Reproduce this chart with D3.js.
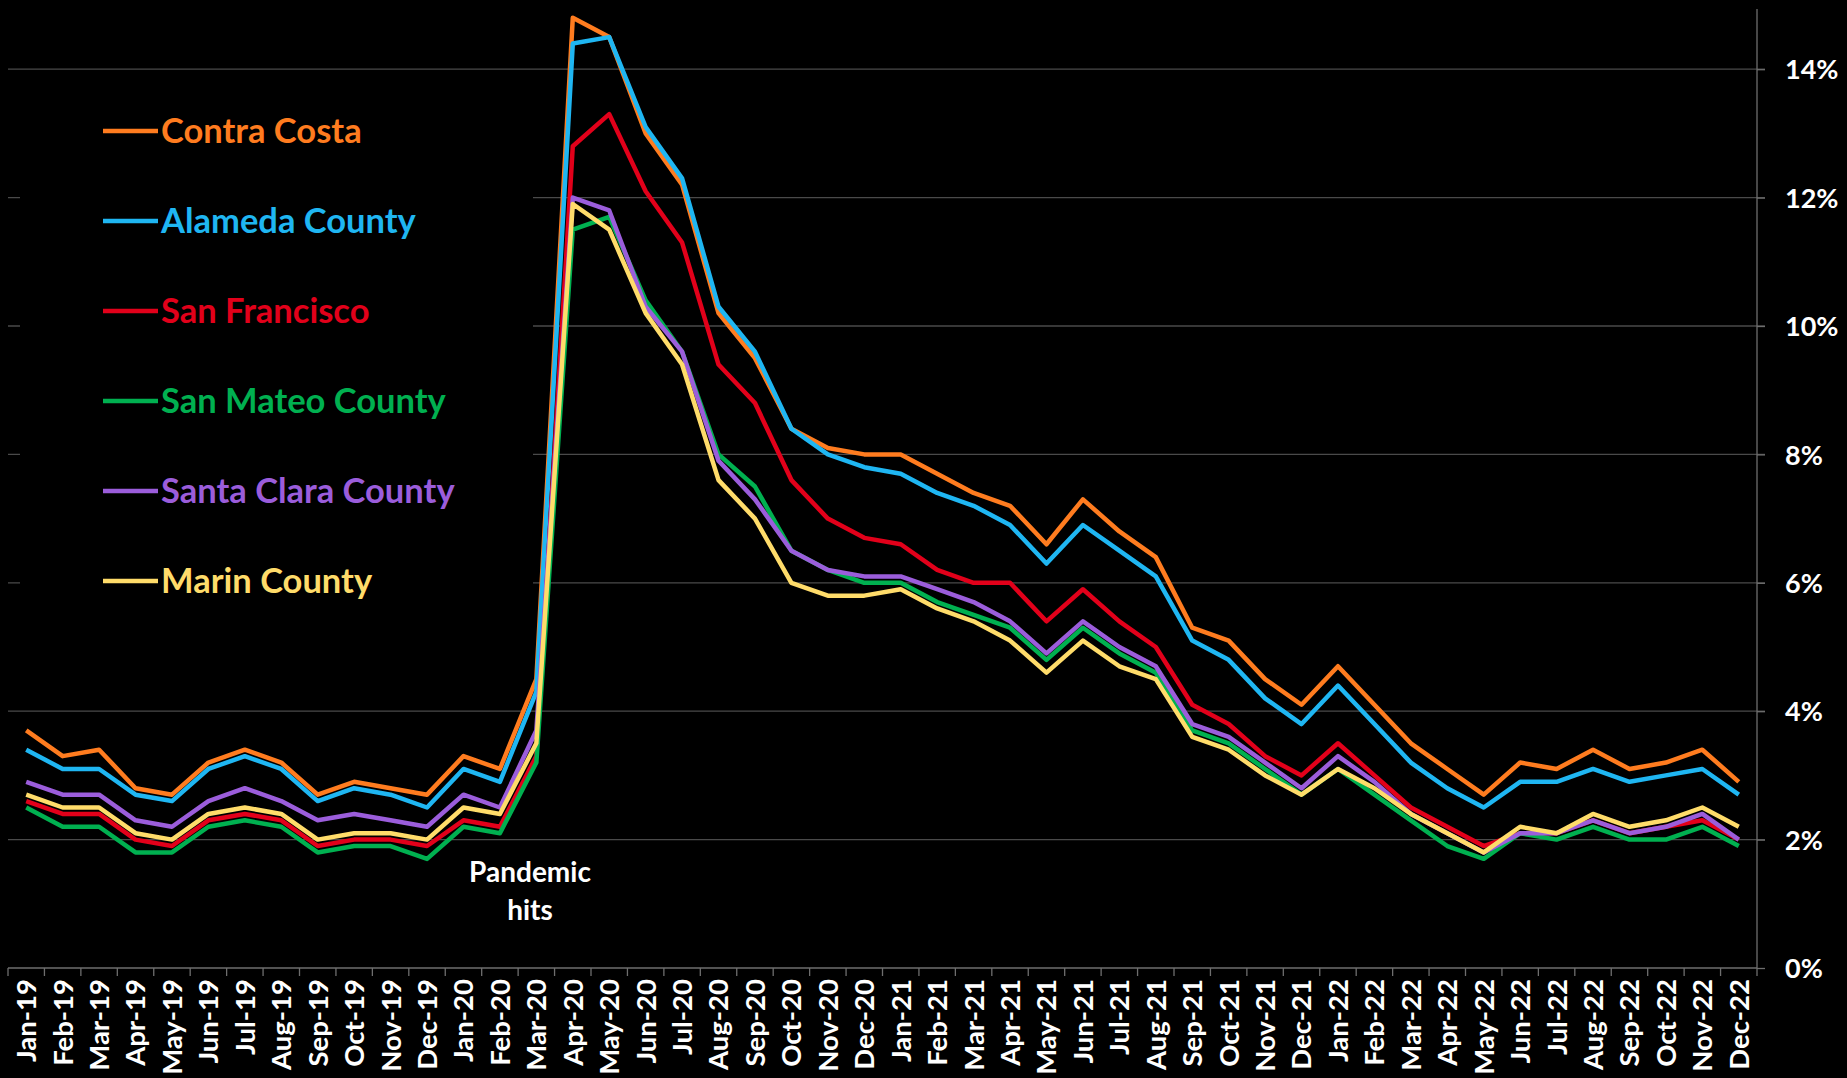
<!DOCTYPE html>
<html>
<head>
<meta charset="utf-8">
<script src="https://cdn.jsdelivr.net/npm/d3@7"></script>
<style>
  body { margin: 0; background: #000; }
  #my_dataviz { width: 1847px; height: 1078px; }
</style>
</head>
<body>
<div id="my_dataviz"></div>
<script>
// months on the x axis
var months = [
  "Jan-19","Feb-19","Mar-19","Apr-19","May-19","Jun-19","Jul-19","Aug-19","Sep-19","Oct-19","Nov-19","Dec-19",
  "Jan-20","Feb-20","Mar-20","Apr-20","May-20","Jun-20","Jul-20","Aug-20","Sep-20","Oct-20","Nov-20","Dec-20",
  "Jan-21","Feb-21","Mar-21","Apr-21","May-21","Jun-21","Jul-21","Aug-21","Sep-21","Oct-21","Nov-21","Dec-21",
  "Jan-22","Feb-22","Mar-22","Apr-22","May-22","Jun-22","Jul-22","Aug-22","Sep-22","Oct-22","Nov-22","Dec-22"
];

// unemployment rate, percent
var contraCosta = [
  3.7, 3.3, 3.4, 2.8, 2.7, 3.2, 3.4, 3.2, 2.7, 2.9, 2.8, 2.7,
  3.3, 3.1, 4.5, 14.8, 14.5, 13.0, 12.2, 10.2, 9.5, 8.4, 8.1, 8.0,
  8.0, 7.7, 7.4, 7.2, 6.6, 7.3, 6.8, 6.4, 5.3, 5.1, 4.5, 4.1,
  4.7, 4.1, 3.5, 3.1, 2.7, 3.2, 3.1, 3.4, 3.1, 3.2, 3.4, 2.9
];
var alameda = [
  3.4, 3.1, 3.1, 2.7, 2.6, 3.1, 3.3, 3.1, 2.6, 2.8, 2.7, 2.5,
  3.1, 2.9, 4.3, 14.4, 14.5, 13.1, 12.3, 10.3, 9.6, 8.4, 8.0, 7.8,
  7.7, 7.4, 7.2, 6.9, 6.3, 6.9, 6.5, 6.1, 5.1, 4.8, 4.2, 3.8,
  4.4, 3.8, 3.2, 2.8, 2.5, 2.9, 2.9, 3.1, 2.9, 3.0, 3.1, 2.7
];
var sanFrancisco = [
  2.6, 2.4, 2.4, 2.0, 1.9, 2.3, 2.4, 2.3, 1.9, 2.0, 2.0, 1.9,
  2.3, 2.2, 3.3, 12.8, 13.3, 12.1, 11.3, 9.4, 8.8, 7.6, 7.0, 6.7,
  6.6, 6.2, 6.0, 6.0, 5.4, 5.9, 5.4, 5.0, 4.1, 3.8, 3.3, 3.0,
  3.5, 3.0, 2.5, 2.2, 1.9, 2.1, 2.1, 2.3, 2.1, 2.2, 2.3, 2.0
];
var sanMateo = [
  2.5, 2.2, 2.2, 1.8, 1.8, 2.2, 2.3, 2.2, 1.8, 1.9, 1.9, 1.7,
  2.2, 2.1, 3.2, 11.5, 11.7, 10.4, 9.6, 8.0, 7.5, 6.5, 6.2, 6.0,
  6.0, 5.7, 5.5, 5.3, 4.8, 5.3, 4.9, 4.6, 3.7, 3.5, 3.1, 2.7,
  3.1, 2.7, 2.3, 1.9, 1.7, 2.1, 2.0, 2.2, 2.0, 2.0, 2.2, 1.9
];
var santaClara = [
  2.9, 2.7, 2.7, 2.3, 2.2, 2.6, 2.8, 2.6, 2.3, 2.4, 2.3, 2.2,
  2.7, 2.5, 3.7, 12.0, 11.8, 10.3, 9.6, 7.9, 7.3, 6.5, 6.2, 6.1,
  6.1, 5.9, 5.7, 5.4, 4.9, 5.4, 5.0, 4.7, 3.8, 3.6, 3.2, 2.8,
  3.3, 2.9, 2.4, 2.1, 1.8, 2.1, 2.1, 2.3, 2.1, 2.2, 2.4, 2.0
];
var marin = [
  2.7, 2.5, 2.5, 2.1, 2.0, 2.4, 2.5, 2.4, 2.0, 2.1, 2.1, 2.0,
  2.5, 2.4, 3.5, 11.9, 11.5, 10.2, 9.4, 7.6, 7.0, 6.0, 5.8, 5.8,
  5.9, 5.6, 5.4, 5.1, 4.6, 5.1, 4.7, 4.5, 3.6, 3.4, 3.0, 2.7,
  3.1, 2.8, 2.4, 2.1, 1.8, 2.2, 2.1, 2.4, 2.2, 2.3, 2.5, 2.2
];

var seriesNames = ["Contra Costa", "Alameda County", "San Francisco", "San Mateo County", "Santa Clara County", "Marin County"];
var seriesColors = ["#ff7c1f", "#1fb6f2", "#e2001a", "#00b050", "#9b5ddb", "#ffdc6a"];
var yTicks = [0, 2, 4, 6, 8, 10, 12, 14];

var series = [contraCosta, alameda, sanFrancisco, sanMateo, santaClara, marin].map(function(v, i) {
  return { name: seriesNames[i], color: seriesColors[i], values: v };
});

var cfg = {
  width: 1847,
  height: 1078,
  left: 8,
  right: 1757,
  top: 5,
  bottom: 968
};

var svg = d3.select("#my_dataviz")
  .append("svg")
  .attr("width", cfg.width)
  .attr("height", cfg.height)
  .style("background", "#000")
  .style("font-family", "Lato, 'Noto Sans', sans-serif")
  .style("font-weight", "bold");

// x: one band per month, points sit in the middle
var x = d3.scaleBand()
  .domain(months)
  .range([cfg.left, cfg.right]);

var y = d3.scaleLinear()
  .domain([0, 15])
  .range([cfg.bottom, cfg.top]);

// gridlines
svg.append("g")
  .selectAll("line")
  .data(yTicks.filter(function(d) { return d > 0; }))
  .enter()
  .append("line")
    .attr("x1", cfg.left)
    .attr("x2", cfg.right + 8)
    .attr("y1", function(d) { return y(d); })
    .attr("y2", function(d) { return y(d); })
    .style("stroke", "#4a4a4a")
    .style("stroke-width", 1.3);

// the legend sits on a black box that hides the gridlines behind it
svg.append("rect")
  .attr("x", 20)
  .attr("y", 80)
  .attr("width", 513)
  .attr("height", 545)
  .style("fill", "#000");

// right y axis
var yAxis = svg.append("g")
  .attr("transform", "translate(" + cfg.right + ",0)")
  .call(d3.axisRight(y).tickValues(yTicks).tickSize(8).tickFormat(function(d) { return d + "%"; }));
yAxis.select(".domain").remove();
yAxis.append("line")
  .attr("x1", 0).attr("x2", 0)
  .attr("y1", 9).attr("y2", cfg.bottom)
  .style("stroke", "#6e6e6e")
  .style("stroke-width", 1.3);
yAxis.selectAll(".tick line").style("stroke", "#6e6e6e").style("stroke-width", 1.3);
yAxis.selectAll(".tick text")
  .attr("x", 28)
  .attr("dy", "0.36em")
  .style("fill", "#fff")
  .style("font-size", "27px")
  .style("font-family", "Lato, 'Noto Sans', sans-serif")
  .style("font-weight", "bold")
  .style("text-anchor", "start");

// bottom x axis, ticks between the months
var xAxis = svg.append("g")
  .attr("transform", "translate(0," + cfg.bottom + ")")
  .call(d3.axisBottom(x).tickSize(0));
xAxis.select(".domain")
  .attr("d", "M" + cfg.left + ",0H" + cfg.right)
  .style("stroke", "#6e6e6e")
  .style("stroke-width", 1.3);
xAxis.selectAll(".tick text")
  .attr("transform", "rotate(-90)")
  .attr("x", -11)
  .attr("y", 0)
  .attr("dy", "0.36em")
  .style("text-anchor", "end")
  .style("fill", "#fff")
  .style("font-size", "27.5px")
  .style("font-family", "Lato, 'Noto Sans', sans-serif")
  .style("font-weight", "bold");

xAxis.append("g")
  .selectAll("line")
  .data(d3.range(months.length + 1))
  .enter()
  .append("line")
    .attr("x1", function(i) { return cfg.left + i * x.step(); })
    .attr("x2", function(i) { return cfg.left + i * x.step(); })
    .attr("y1", 0)
    .attr("y2", 8)
    .style("stroke", "#6e6e6e")
    .style("stroke-width", 1.3);

// lines
var line = d3.line()
  .x(function(d, i) { return x(months[i]) + x.bandwidth() / 2; })
  .y(function(d) { return y(d); });

svg.append("g")
  .selectAll("path")
  .data(series)
  .enter()
  .append("path")
    .attr("d", function(d) { return line(d.values); })
    .style("fill", "none")
    .style("stroke", function(d) { return d.color; })
    .style("stroke-width", 4.5)
    .style("stroke-linejoin", "round");

// legend
var legend = svg.append("g")
  .selectAll("g")
  .data(series)
  .enter()
  .append("g")
    .attr("transform", function(d, i) { return "translate(0," + (131 + i * 90) + ")"; });

legend.append("line")
  .attr("x1", 103)
  .attr("x2", 158)
  .style("stroke", function(d) { return d.color; })
  .style("stroke-width", 4.5);

legend.append("text")
  .attr("x", 161)
  .attr("dy", "0.35em")
  .text(function(d) { return d.name; })
  .style("fill", function(d) { return d.color; })
  .style("font-size", "34.5px");

// annotation
svg.append("text")
  .attr("x", 530)
  .attr("y", 882)
  .attr("text-anchor", "middle")
  .style("fill", "#fff")
  .style("font-size", "28px")
  .text("Pandemic");
svg.append("text")
  .attr("x", 530)
  .attr("y", 920)
  .attr("text-anchor", "middle")
  .style("fill", "#fff")
  .style("font-size", "28px")
  .text("hits");
</script>
</body>
</html>
